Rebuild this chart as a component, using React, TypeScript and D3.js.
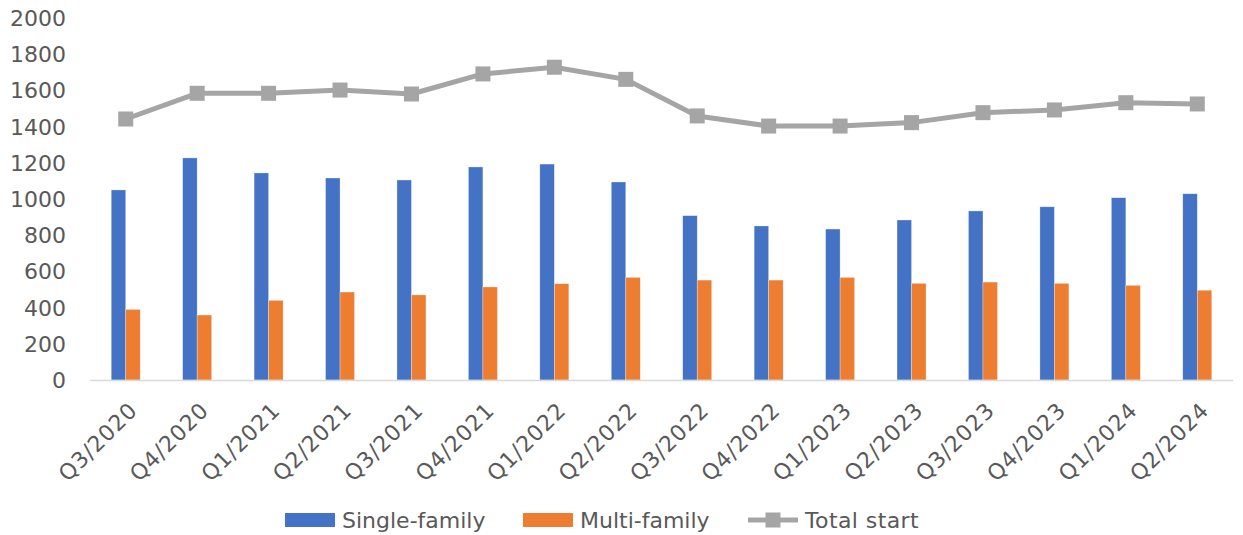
import React from "react";
import * as d3 from "d3";

const categories = ["Q3/2020","Q4/2020","Q1/2021","Q2/2021","Q3/2021","Q4/2021","Q1/2022","Q2/2022","Q3/2022","Q4/2022","Q1/2023","Q2/2023","Q3/2023","Q4/2023","Q1/2024","Q2/2024"];
const singleFamily = [1050,1227,1144,1116,1105,1177,1193,1094,908,851,834,884,934,957,1007,1029];
const multiFamily = [390,359,440,486,470,514,532,567,552,552,567,534,541,534,523,496];
const totalStart = [1442,1584,1584,1602,1580,1691,1728,1661,1459,1403,1403,1422,1477,1492,1532,1525];
const yTicks = [0,200,400,600,800,1000,1200,1400,1600,1800,2000];

const W = 1243, H = 535;
const left = 90, right = 1233, top = 18, bottom = 380;
const FONT = "'DejaVu Sans', sans-serif";
const TXT = "#595959";
const BLUE = "#4472c4", ORANGE = "#ed7d31", GRAY = "#a5a5a5";

export default function App() {
  const x = d3.scaleBand<string>().domain(categories).range([left, right]).paddingInner(0).paddingOuter(0);
  const y = d3.scaleLinear().domain([0, 2000]).range([bottom, top]);
  const bw = 14.5;
  const line = d3.line<number>().x((_, i) => x(categories[i])! + x.bandwidth() / 2).y(d => y(d));
  return (
    <svg width={W} height={H} style={{ position: "absolute", left: 0, top: 0, background: "#fff" }} fontFamily={FONT}>
      {yTicks.map(t => (
        <text key={t} x={66} y={y(t)} dy="0.36em" textAnchor="end" fontSize={22} fill={TXT}>{t}</text>
      ))}
      {categories.map((c, i) => {
        const cx = x(c)! + x.bandwidth() / 2;
        return (
          <g key={c}>
            <rect x={cx - bw} y={y(singleFamily[i])} width={bw} height={bottom - y(singleFamily[i])} fill={BLUE} stroke="#fff" strokeWidth={0.6} strokeOpacity={0.5} />
            <rect x={cx} y={y(multiFamily[i])} width={bw} height={bottom - y(multiFamily[i])} fill={ORANGE} stroke="#fff" strokeWidth={0.6} strokeOpacity={0.5} />
            <text transform={`translate(${cx + 2},${bottom + 21}) rotate(-45)`} textAnchor="end" dy="0.7em" fontSize={22} letterSpacing={0.8} fill={TXT}>{c}</text>
          </g>
        );
      })}
      <line x1={left} x2={right} y1={bottom + 0.5} y2={bottom + 0.5} stroke="#d9d9d9" strokeWidth={1.5} />
      <path d={line(totalStart)!} fill="none" stroke={GRAY} strokeWidth={5} strokeLinejoin="round" />
      {totalStart.map((v, i) => {
        const cx = x(categories[i])! + x.bandwidth() / 2;
        return <rect key={i} x={cx - 7.5} y={y(v) - 7.5} width={15} height={15} fill={GRAY} />;
      })}
      <g fontSize={22} fill={TXT}>
        <rect x={285} y={513} width={50} height={14} fill={BLUE} />
        <text x={342} y={520} dy="0.36em">Single-family</text>
        <rect x={523} y={513} width={50} height={14} fill={ORANGE} />
        <text x={580} y={520} dy="0.36em">Multi-family</text>
        <line x1={748} x2={798} y1={520} y2={520} stroke={GRAY} strokeWidth={5} />
        <rect x={765.5} y={512.5} width={15} height={15} fill={GRAY} />
        <text x={805} y={520} dy="0.36em" letterSpacing={0.4}>Total start</text>
      </g>
    </svg>
  );
}
